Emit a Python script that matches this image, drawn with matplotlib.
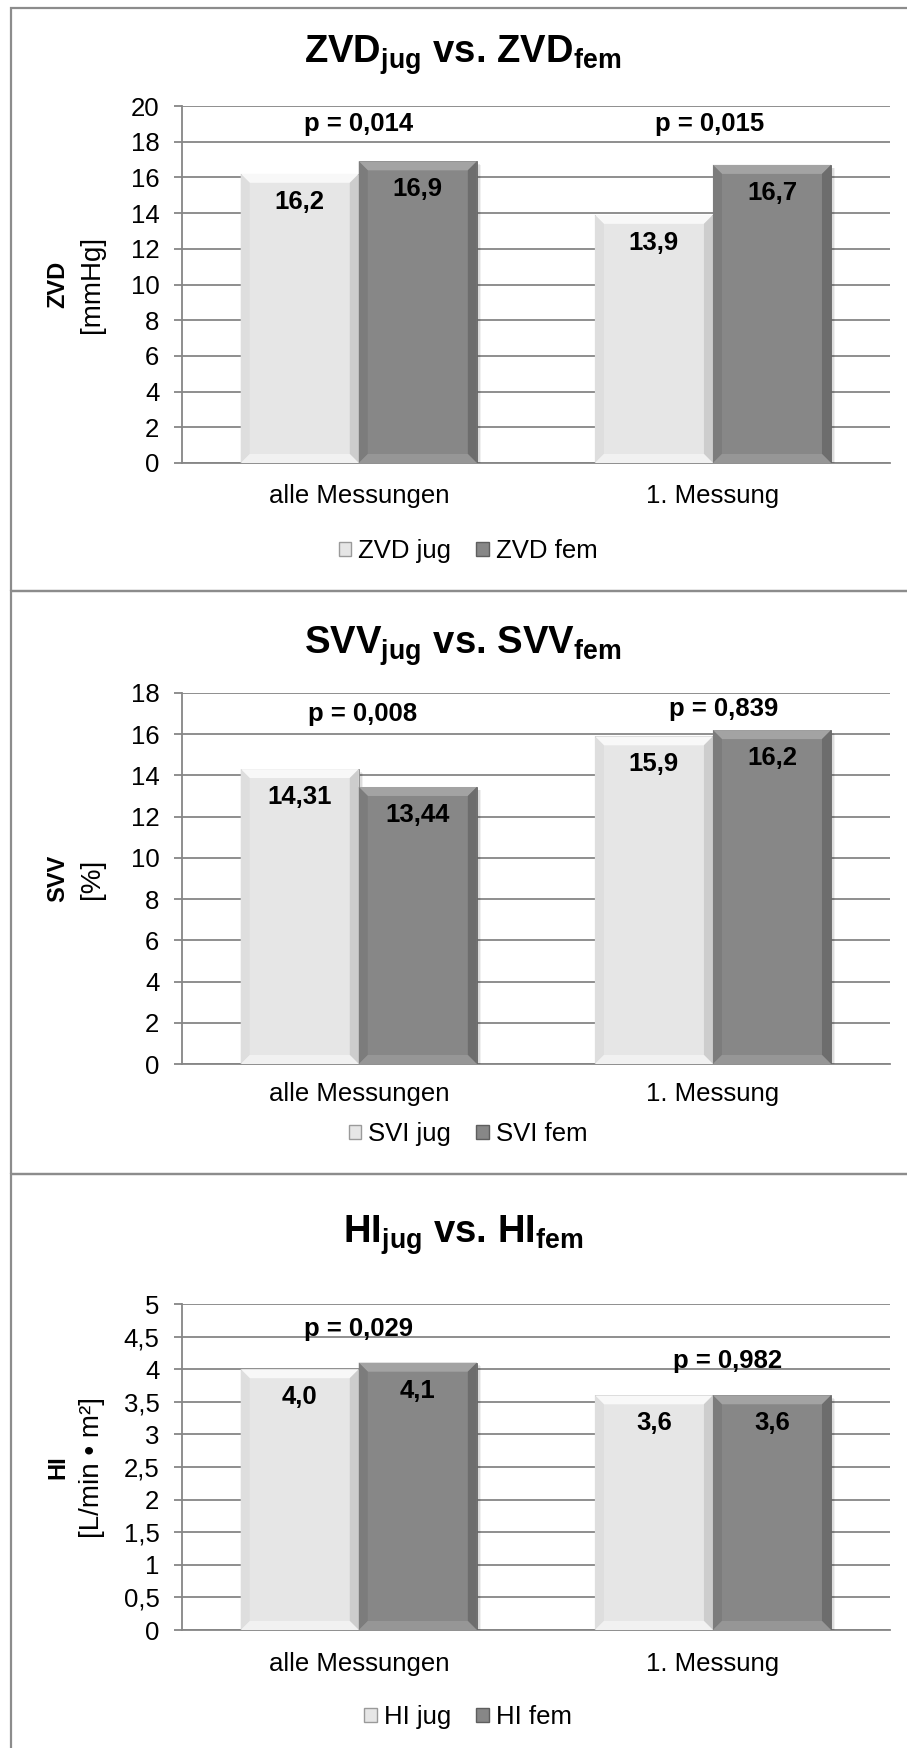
import matplotlib
matplotlib.use("Agg")
import matplotlib.pyplot as plt
import matplotlib.patheffects as pe
from matplotlib.patches import Polygon, Rectangle, Patch
from matplotlib.ticker import FuncFormatter, MultipleLocator

plt.rcParams["font.family"] = ["Liberation Sans", "DejaVu Sans"]
plt.rcParams["mathtext.fontset"] = "custom"
plt.rcParams["mathtext.rm"] = "Liberation Sans"
plt.rcParams["mathtext.bf"] = "Liberation Sans:bold"
plt.rcParams["mathtext.it"] = "Liberation Sans:italic"

# ---------------- data ----------------
categories = ["alle Messungen", "1. Messung"]

zvd_jug = [16.2, 13.9]
zvd_fem = [16.9, 16.7]
zvd_decimals = [1, 1]
zvd_p = ["p = 0,014", "p = 0,015"]
zvd_p_x = [0.0, 0.99]
zvd_p_y = [19.0, 19.0]

svv_jug = [14.31, 15.9]
svv_fem = [13.44, 16.2]
svv_decimals = [2, 1]
svv_p = ["p = 0,008", "p = 0,839"]
svv_p_x = [0.01, 1.03]
svv_p_y = [17.0, 17.2]

hi_jug = [4.0, 3.6]
hi_fem = [4.1, 3.6]
hi_decimals = [1, 1]
hi_p = ["p = 0,029", "p = 0,982"]
hi_p_x = [0.0, 1.04]
hi_p_y = [4.62, 4.12]

# ---------------- layout (pixels) ----------------
W, H = 907, 1748
fig = plt.figure(figsize=(W / 100, H / 100), dpi=100)

JUG_FACE = "#e6e6e6"
FEM_FACE = "#878787"
JUG_BEVEL = dict(top="#f8f8f8", left="#dedede", right="#cdcdcd", bottom="#f1f1f1")
FEM_BEVEL = dict(top="#a3a3a3", left="#7c7c7c", right="#6d6d6d", bottom="#969696")
GRID = "#868686"
FS = 18.5


def fx(px):
    return px / W


def fy(py):
    return 1 - py / H


def comma(v, decimals):
    return f"{v:.{decimals}f}".replace(".", ",")


def tick_fmt(v, _):
    return f"{v:g}".replace(".", ",")


def bevel_bar(ax, xc, width, h, face, bevel, depth=9):
    bars = ax.bar(xc, h, width, color=face, edgecolor="#8a8a8a" if face == JUG_FACE else "#666666",
                  linewidth=0.6, zorder=3,
                  path_effects=[pe.SimplePatchShadow(offset=(1.0, -1.0), shadow_rgbFace="k", alpha=0.10),
                                pe.SimplePatchShadow(offset=(2.0, -2.0), shadow_rgbFace="k", alpha=0.08),
                                pe.SimplePatchShadow(offset=(3.0, -2.5), shadow_rgbFace="k", alpha=0.06),
                                pe.Normal()])
    bb = ax.get_window_extent()
    xl, yl = ax.get_xlim(), ax.get_ylim()
    dx = depth * (xl[1] - xl[0]) / bb.width
    dy = depth * (yl[1] - yl[0]) / bb.height
    x0, x1 = xc - width / 2, xc + width / 2
    polys = {
        "top": [(x0, h), (x1, h), (x1 - dx, h - dy), (x0 + dx, h - dy)],
        "left": [(x0, 0), (x0, h), (x0 + dx, h - dy), (x0 + dx, dy)],
        "right": [(x1, 0), (x1, h), (x1 - dx, h - dy), (x1 - dx, dy)],
        "bottom": [(x0, 0), (x1, 0), (x1 - dx, dy), (x0 + dx, dy)],
    }
    for k, pts in polys.items():
        ax.add_patch(Polygon(pts, closed=True, facecolor=bevel[k], edgecolor="none", zorder=3.5))
    return bars


def panel(frame_top, frame_bot, ax_top, ax_bot, ymax, ystep, jug, fem, decimals,
          p_texts, p_x, p_y, title, ylab_bold, ylab_unit, leg_labels, title_y, leg_y, cat_y):
    # panel frame
    fig.add_artist(Rectangle((fx(11), fy(frame_bot)), fx(930) - fx(11), fy(frame_top) - fy(frame_bot),
                             transform=fig.transFigure, facecolor="none", edgecolor="#8c8c8c",
                             linewidth=1.6, zorder=0))
    left, right = 181.7, 890
    ax = fig.add_axes([fx(left), fy(ax_bot), fx(right) - fx(left), fy(ax_top) - fy(ax_bot)])
    ax.set_xlim(-0.5, 1.5)
    ax.set_ylim(0, ymax)
    ax.yaxis.set_major_locator(MultipleLocator(ystep))
    ax.yaxis.set_major_formatter(FuncFormatter(tick_fmt))
    ax.grid(axis="y", color=GRID, linewidth=1.3, zorder=0)
    ax.set_axisbelow(True)
    for s in ("top", "right"):
        ax.spines[s].set_visible(False)
    for s in ("left", "bottom"):
        ax.spines[s].set_color(GRID)
        ax.spines[s].set_linewidth(1.3)
    ax.tick_params(axis="y", length=6, width=1.3, color=GRID, labelsize=FS, pad=10)
    ax.set_xticks([0, 1])
    ax.set_xticklabels(categories)
    ax.tick_params(axis="x", length=0, labelsize=FS, pad=(cat_y - ax_bot - 13) * 0.72)

    bw = 1 / 3
    for i in range(2):
        bevel_bar(ax, i - bw / 2, bw, jug[i], JUG_FACE, JUG_BEVEL)
        bevel_bar(ax, i + bw / 2, bw, fem[i], FEM_FACE, FEM_BEVEL)
        for xc, v in ((i - bw / 2, jug[i]), (i + bw / 2, fem[i])):
            ax.annotate(comma(v, decimals[i]), xy=(xc, v), xytext=(0, -28),
                        textcoords="offset pixels", ha="center", va="center",
                        fontsize=FS, fontweight="bold", zorder=5)
        ax.text(p_x[i], p_y[i], p_texts[i], ha="center", va="center",
                fontsize=FS, fontweight="bold", zorder=5)

    fig.text(fx(463), fy(title_y), title, ha="center", va="center", fontsize=27.5,
             fontweight="bold")
    ymid = fy((ax_top + ax_bot) / 2)
    fig.text(fx(58), ymid, ylab_bold, rotation=90, ha="center", va="center",
             fontsize=17, fontweight="bold")
    fig.text(fx(92), ymid, ylab_unit, rotation=90, ha="center", va="center", fontsize=20)

    handles = [Patch(facecolor=JUG_FACE, edgecolor="#9a9a9a"),
               Patch(facecolor=FEM_FACE, edgecolor="#5e5e5e")]
    fig.legend(handles, leg_labels, loc="center", bbox_to_anchor=(fx(468), fy(leg_y)),
               ncol=2, frameon=False, fontsize=FS, handlelength=0.5, handleheight=0.5,
               handletextpad=0.25, columnspacing=1.0)
    return ax


panel(8, 591, 106, 463, 20, 2, zvd_jug, zvd_fem, zvd_decimals, zvd_p, zvd_p_x, zvd_p_y,
      r"ZVD$_{\mathbf{jug}}$ vs. ZVD$_{\mathbf{fem}}$", "ZVD", "[mmHg]", ["ZVD jug", "ZVD fem"],
      55, 551, 497)
panel(591, 1174, 693, 1064, 18, 2, svv_jug, svv_fem, svv_decimals, svv_p, svv_p_x, svv_p_y,
      r"SVV$_{\mathbf{jug}}$ vs. SVV$_{\mathbf{fem}}$", "SVV", "[%]", ["SVI jug", "SVI fem"],
      646, 1134, 1095)
panel(1174, 1760, 1304, 1630, 5, 0.5, hi_jug, hi_fem, hi_decimals, hi_p, hi_p_x, hi_p_y,
      r"HI$_{\mathbf{jug}}$ vs. HI$_{\mathbf{fem}}$", "HI", "[L/min • m²]", ["HI jug", "HI fem"],
      1235, 1717, 1665)

fig.savefig("out.png", dpi=100, facecolor="white")
